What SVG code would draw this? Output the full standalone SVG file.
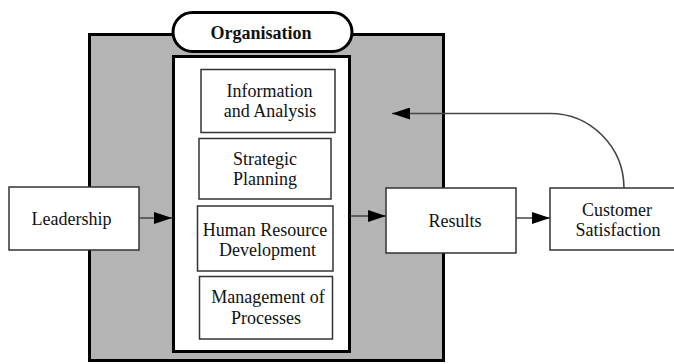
<svg xmlns="http://www.w3.org/2000/svg" width="674" height="364" viewBox="0 0 674 364">
<style>
text{font-size:18px;fill:#111;text-anchor:middle}
.box{fill:#fff;stroke:#333;stroke-width:1.5}
.con{fill:none;stroke:#444;stroke-width:1.6}
</style>
<defs>
<marker id="ah" markerWidth="18" markerHeight="12" refX="18" refY="6" orient="auto" markerUnits="userSpaceOnUse">
<path d="M0,0 L18,6 L0,12 Z" fill="#000"/>
</marker>
</defs>
<rect width="674" height="364" fill="#fff"/>
<g font-family="Liberation Serif, Times New Roman, serif">
<g id="organisation">
<rect x="89.5" y="34.5" width="354" height="326" fill="#b4b4b4" stroke="#000" stroke-width="3"/>
<rect x="173.5" y="56.5" width="176" height="295" fill="#fff" stroke="#000" stroke-width="3"/>
<rect x="173" y="12.5" width="179" height="39" rx="19.5" fill="#fff" stroke="#000" stroke-width="3"/>
<text x="261" y="38.5" font-weight="bold" font-size="20">Organisation</text>
</g>
<g id="info">
<rect class="box" x="201" y="69.5" width="134" height="63"/>
<text x="269.5" y="96.5">Information</text>
<text x="270" y="116.5">and Analysis</text>
</g>
<g id="strategic">
<rect class="box" x="199" y="138.5" width="132" height="60.5"/>
<text x="265" y="164.5">Strategic</text>
<text x="265" y="184.5">Planning</text>
</g>
<g id="hrd">
<rect class="box" x="197.5" y="206" width="135.5" height="65"/>
<text x="265" y="236">Human Resource</text>
<text x="267.5" y="256">Development</text>
</g>
<g id="mgmt">
<rect class="box" x="199.5" y="276.5" width="133" height="62.5"/>
<text x="268" y="303">Management of</text>
<text x="266" y="323.5">Processes</text>
</g>
<g id="leadership">
<rect class="box" x="9" y="187" width="130" height="63"/>
<text x="71.5" y="225">Leadership</text>
</g>
<g id="results">
<rect class="box" x="386" y="188" width="130" height="65"/>
<text x="455" y="226.5">Results</text>
</g>
<g id="customer">
<rect class="box" x="550" y="188" width="130" height="62"/>
<text x="617" y="216">Customer</text>
<text x="618" y="236">Satisfaction</text>
</g>
</g>
<g id="connectors">
<line class="con" x1="139" y1="218" x2="172" y2="218" marker-end="url(#ah)"/>
<line class="con" x1="351" y1="216" x2="386" y2="216" marker-end="url(#ah)"/>
<line class="con" x1="516" y1="218" x2="550" y2="218" marker-end="url(#ah)"/>
<path class="con" d="M624,188 A74,75 0 0 0 550,113.5 L392,113.5" marker-end="url(#ah)"/>
</g>
</svg>
